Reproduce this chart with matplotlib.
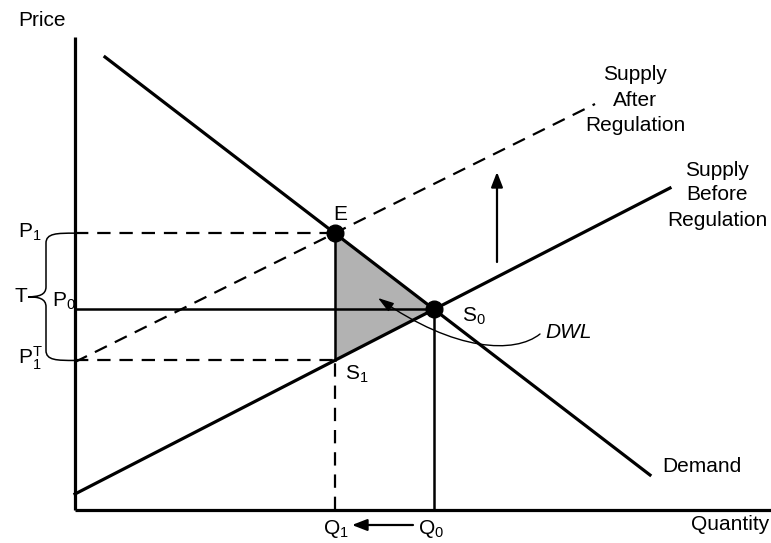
import numpy as np
import matplotlib
matplotlib.use("Agg")
import matplotlib.pyplot as plt
from matplotlib.path import Path
from matplotlib.patches import PathPatch, FancyArrowPatch, Polygon

plt.rcParams['font.family'] = ['Liberation Sans', 'DejaVu Sans']
plt.rcParams['mathtext.fontset'] = 'custom'
plt.rcParams['mathtext.rm'] = 'Liberation Sans'
plt.rcParams['mathtext.it'] = 'Liberation Sans:italic'

# curves (quantity, price), origin at the axes corner
demand_q = [30, 575]
demand_p = [453, 35]
supply_before_q = [0, 595]
supply_before_p = [16, 322]
supply_after_q = [0, 520]
supply_after_p = [148, 406]

axis_q_max = 696
axis_p_max = 473


def line_coef(q, p):
    m = (p[1] - p[0]) / (q[1] - q[0])
    return m, p[0] - m * q[0]


def cross(a, b):
    m1, c1 = a
    m2, c2 = b
    q = (c2 - c1) / (m1 - m2)
    return q, m1 * q + c1


dem = line_coef(demand_q, demand_p)
sb = line_coef(supply_before_q, supply_before_p)
sa = line_coef(supply_after_q, supply_after_p)

E = cross(dem, sa)        # new equilibrium
S0 = cross(dem, sb)       # old equilibrium
S1 = (E[0], sb[0] * E[0] + sb[1])   # supply before at Q1
P1, P0, P1T = E[1], S0[1], S1[1]
Q1, Q0 = E[0], S0[0]

fig = plt.figure(figsize=(7.71, 5.43), dpi=100)
ax = fig.add_axes([0, 0, 1, 1])
ax.set_xlim(-75, 696)
ax.set_ylim(-33, 510)
ax.axis('off')

lw = 2.3
dlw = 1.6
dash = (0, (6, 4))

# axes
ax.plot([0, 0], [0, axis_p_max], color='black', lw=lw, solid_capstyle='butt')
ax.plot([0, axis_q_max], [0, 0], color='black', lw=lw, solid_capstyle='butt')

# deadweight loss triangle
ax.add_patch(Polygon([E, S0, S1], closed=True, facecolor='#b2b2b2', edgecolor='none', zorder=1))

# curves
ax.plot(demand_q, demand_p, color='black', lw=lw, zorder=3)
ax.plot(supply_before_q, supply_before_p, color='black', lw=lw, zorder=3)
ax.plot(supply_after_q, supply_after_p, color='black', lw=dlw, ls=dash, zorder=3)

# guide lines
ax.plot([0, Q1], [P1, P1], color='black', lw=dlw, ls=dash)
ax.plot([0, Q1], [P1T, P1T], color='black', lw=dlw, ls=dash)
ax.plot([0, Q0], [P0, P0], color='black', lw=dlw + 0.2)
ax.plot([Q1, Q1], [P1T, P1], color='black', lw=dlw + 0.2)
ax.plot([Q1, Q1], [0, P1T], color='black', lw=dlw, ls=dash)
ax.plot([Q0, Q0], [0, P0], color='black', lw=dlw + 0.2)

# equilibrium dots
ax.plot([E[0], S0[0]], [E[1], S0[1]], 'o', color='black', ms=12, zorder=5)

# shift arrows
ax.annotate('', xy=(422, 338), xytext=(422, 248),
            arrowprops=dict(arrowstyle='-|>,head_length=0.9,head_width=0.35',
                            color='black', lw=1.6, shrinkA=0, shrinkB=0))
ax.annotate('', xy=(277, -15), xytext=(338, -15),
            arrowprops=dict(arrowstyle='-|>,head_length=0.9,head_width=0.35',
                            color='black', lw=1.6, shrinkA=0, shrinkB=0))

# DWL pointer
dwl_path = Path([(465, 176), (440, 156), (380, 158), (303, 212)],
                [Path.MOVETO, Path.CURVE4, Path.CURVE4, Path.CURVE4])
ax.add_patch(FancyArrowPatch(path=dwl_path, arrowstyle='-|>,head_length=0.8,head_width=0.25',
                             mutation_scale=12, color='black', lw=1.0, zorder=6))

# brace for T
mid = (P1 + P1T) / 2
bx = -29
brace = Path([(0, P1), (-18, P1), (bx, P1), (bx, P1 - 10),
              (bx, mid + 10),
              (bx, mid + 2), (-36, mid), (-47, mid),
              (-36, mid), (bx, mid - 2), (bx, mid - 10),
              (bx, P1T + 10),
              (bx, P1T), (-18, P1T), (0, P1T)],
             [Path.MOVETO, Path.CURVE4, Path.CURVE4, Path.CURVE4,
              Path.LINETO,
              Path.CURVE4, Path.CURVE4, Path.CURVE4,
              Path.CURVE4, Path.CURVE4, Path.CURVE4,
              Path.LINETO,
              Path.CURVE4, Path.CURVE4, Path.CURVE4])
ax.add_patch(PathPatch(brace, facecolor='none', edgecolor='black', lw=1.1))

fs = 15
ax.text(-57, 490, 'Price', fontsize=fs, ha='left', va='center')
ax.text(694, -15, 'Quantity', fontsize=fs, ha='right', va='center')
ax.text(587, 43, 'Demand', fontsize=fs, ha='left', va='center')
ax.text(560, 410, 'Supply\nAfter\nRegulation', fontsize=fs, ha='center', va='center',
        linespacing=1.45)
ax.text(642, 315, 'Supply\nBefore\nRegulation', fontsize=fs, ha='center', va='center',
        linespacing=1.4)
ax.text(265, 295, 'E', fontsize=fs, ha='center', va='center')
ax.text(387, 194, r'$\mathrm{S_0}$', fontsize=fs, ha='left', va='center')
ax.text(270, 136, r'$\mathrm{S_1}$', fontsize=fs, ha='left', va='center')
ax.text(470, 178, 'DWL', fontsize=fs, style='italic', ha='left', va='center')
ax.text(261, -19, r'$\mathrm{Q_1}$', fontsize=fs, ha='center', va='center')
ax.text(356, -19, r'$\mathrm{Q_0}$', fontsize=fs, ha='center', va='center')
ax.text(-57, 278, r'$\mathrm{P_1}$', fontsize=fs, ha='left', va='center')
ax.text(-23, 209, r'$\mathrm{P_0}$', fontsize=fs, ha='left', va='center')
ax.text(-57, 152, r'$\mathrm{P_1^T}$', fontsize=fs, ha='left', va='center')
ax.text(-48, 214, 'T', fontsize=fs, ha='right', va='center')

fig.savefig('out.png', dpi=100)
